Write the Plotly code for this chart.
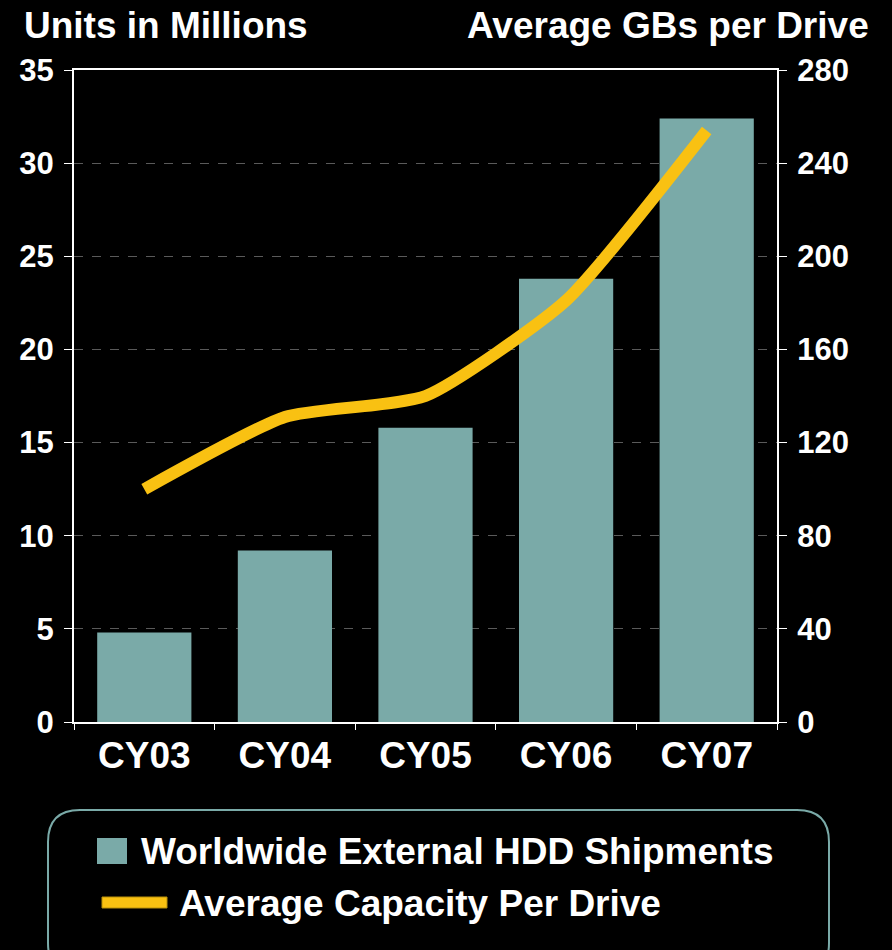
import plotly.graph_objects as go

# Data
years = ["CY03", "CY04", "CY05", "CY06", "CY07"]
shipments_millions = [4.8, 9.2, 15.8, 23.8, 32.4]
avg_gb_per_drive = [100, 131, 140, 181, 254]
left_ticks = [0, 5, 10, 15, 20, 25, 30, 35]
right_ticks = [0, 40, 80, 120, 160, 200, 240, 280]

BAR_COLOR = "#7AAAA8"
LINE_COLOR = "#F9C112"
FONT = "Liberation Sans, Arial, sans-serif"

W, H = 892, 950
L, R, T, B = 74, 777, 70, 722  # plot area in pixels


def px(x):
    return (x - L) / (R - L)


def py(y):
    return (B - y) / (B - T)


fig = go.Figure()
fig.add_trace(go.Bar(
    x=years, y=shipments_millions, marker=dict(color=BAR_COLOR, line=dict(width=0)),
    name="Worldwide External HDD Shipments", showlegend=False,
))
fig.add_trace(go.Scatter(
    x=years, y=avg_gb_per_drive, yaxis="y2", mode="lines",
    line=dict(color=LINE_COLOR, width=12, shape="spline", smoothing=0.55),
    name="Average Capacity Per Drive", showlegend=False,
))

axis_font = dict(family=FONT, size=31, color="white", weight="bold")

fig.update_layout(
    width=W, height=H,
    paper_bgcolor="black", plot_bgcolor="black",
    margin=dict(l=L, r=W - R, t=T, b=H - B, pad=0),
    bargap=0.33,
    font=dict(family=FONT, color="white"),
    xaxis=dict(
        range=[-0.5, 4.5], showline=True, linecolor="white", linewidth=2, mirror=True,
        ticks="outside", tickson="boundaries", ticklen=6, tickcolor="white", tickwidth=1,
        tickfont=dict(family=FONT, size=37, color="white", weight="bold"),
        showgrid=False, zeroline=False,
    ),
    yaxis=dict(
        range=[0, 35], tickvals=left_ticks, showline=True, linecolor="white", linewidth=2,
        ticks="outside", ticklen=8, tickcolor="white", tickwidth=1, tickfont=axis_font,
        showgrid=True, gridcolor="#5a5a5a", griddash="dash", gridwidth=1, zeroline=False,
        ticklabelstandoff=4,
    ),
    yaxis2=dict(
        range=[0, 280], tickvals=right_ticks, overlaying="y", side="right",
        showline=True, linecolor="white", linewidth=2,
        ticks="outside", ticklen=8, tickcolor="white", tickwidth=1, tickfont=axis_font,
        showgrid=False, zeroline=False, ticklabelstandoff=4,
    ),
)

title_font = dict(family=FONT, size=37, color="white")
fig.add_annotation(text="<b>Units in Millions</b>", xref="paper", yref="paper",
                   x=px(22), y=py(25), xanchor="left", yanchor="middle",
                   showarrow=False, font=title_font)
fig.add_annotation(text="<b>Average GBs per Drive</b>", xref="paper", yref="paper",
                   x=px(871), y=py(25), xanchor="right", yanchor="middle",
                   showarrow=False, font=title_font)

# Legend panel with rounded corners
x0, x1, y0, y1, r = 48, 829, 810, 975, 32
path = (f"M {px(x0 + r)},{py(y0)} L {px(x1 - r)},{py(y0)} "
        f"Q {px(x1)},{py(y0)} {px(x1)},{py(y0 + r)} "
        f"L {px(x1)},{py(y1 - r)} Q {px(x1)},{py(y1)} {px(x1 - r)},{py(y1)} "
        f"L {px(x0 + r)},{py(y1)} Q {px(x0)},{py(y1)} {px(x0)},{py(y1 - r)} "
        f"L {px(x0)},{py(y0 + r)} Q {px(x0)},{py(y0)} {px(x0 + r)},{py(y0)} Z")
fig.add_shape(type="path", path=path, xref="paper", yref="paper",
              line=dict(color=BAR_COLOR, width=2), fillcolor="black", layer="above")
fig.add_shape(type="rect", xref="paper", yref="paper",
              x0=px(97), x1=px(127), y0=py(838), y1=py(864),
              fillcolor=BAR_COLOR, line=dict(width=0), layer="above")
fig.add_shape(type="rect", xref="paper", yref="paper",
              x0=px(102), x1=px(167), y0=py(897), y1=py(908),
              fillcolor=LINE_COLOR, line=dict(color="#B8900A", width=1), layer="above")
legend_font = dict(family=FONT, size=37, color="white")
fig.add_annotation(text="<b>Worldwide External HDD Shipments</b>", xref="paper", yref="paper",
                   x=px(139), y=py(851), xanchor="left", yanchor="middle",
                   showarrow=False, font=legend_font)
fig.add_annotation(text="<b>Average Capacity Per Drive</b>", xref="paper", yref="paper",
                   x=px(177), y=py(903), xanchor="left", yanchor="middle",
                   showarrow=False, font=legend_font)

fig.write_html("out.html")
